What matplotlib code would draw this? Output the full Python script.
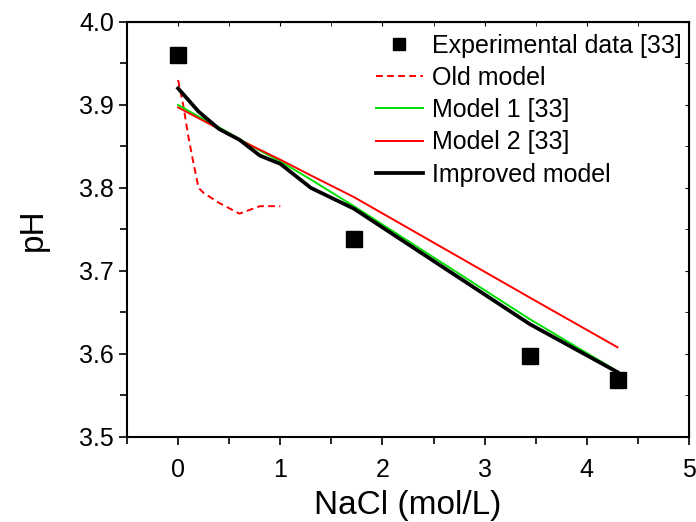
import matplotlib
matplotlib.use('Agg')
import matplotlib.pyplot as plt
from matplotlib.ticker import MultipleLocator

plt.rcParams['font.family'] = ['Liberation Sans', 'DejaVu Sans']

# experimental points
exp_x = [0.0, 1.72, 3.44, 4.3]
exp_ph = [3.96, 3.738, 3.598, 3.569]

# old model (dashed)
old_x = [0.0, 0.05, 0.1, 0.15, 0.2, 0.25, 0.4, 0.6, 0.8, 1.0]
old_ph = [3.93, 3.90, 3.862, 3.83, 3.80, 3.794, 3.782, 3.769, 3.778, 3.778]

# model curves share the same concentrations
model_x = [0.0, 0.2, 0.4, 0.6, 0.8, 1.0, 1.3, 1.72, 3.44, 4.3]
model1_ph = [3.90, 3.886, 3.873, 3.859, 3.845, 3.832, 3.81, 3.778, 3.642, 3.579]
model2_ph = [3.897, 3.884, 3.871, 3.858, 3.846, 3.834, 3.815, 3.789, 3.668, 3.608]
improved_ph = [3.92, 3.892, 3.871, 3.858, 3.839, 3.829, 3.80, 3.775, 3.636, 3.578]

fig = plt.figure(figsize=(6.96, 5.22), dpi=100)
ax = fig.add_axes([0.1825, 0.163, 0.8075, 0.795])

ax.plot(exp_x, exp_ph, 's', color='black', markersize=11, label='Experimental data [33]')
ax.plot(old_x, old_ph, '--', color='red', lw=1.4, dashes=(3.5, 2.2), label='Old model')
ax.plot(model_x, model1_ph, '-', color='#00e000', lw=1.4, label='Model 1 [33]')
ax.plot(model_x, model2_ph, '-', color='red', lw=1.4, label='Model 2 [33]')
ax.plot(model_x, improved_ph, '-', color='black', lw=2.7, label='Improved model')

ax.set_xlim(-0.5, 5)
ax.set_ylim(3.5, 4.0)
ax.xaxis.set_major_locator(MultipleLocator(1))
ax.xaxis.set_minor_locator(MultipleLocator(0.5))
ax.set_yticks([3.5, 3.6, 3.7, 3.8, 3.9, 4.0])
ax.set_yticklabels(['3.5', '3.6', '3.7', '3.8', '3.9', '4.0'])
ax.yaxis.set_minor_locator(MultipleLocator(0.05))

ax.tick_params(which='both', direction='out', labelsize=18, width=1.2, top=False, right=False)
ax.tick_params(which='major', length=6)
ax.tick_params(which='minor', length=5)
ax.tick_params(axis='x', which='major', pad=9)
# inward ticks on top and right
ax2 = ax.secondary_xaxis('top')
ax2.xaxis.set_major_locator(MultipleLocator(1))
ax2.xaxis.set_minor_locator(MultipleLocator(0.5))
ax2.tick_params(which='both', direction='in', length=3, labeltop=False)
ax3 = ax.secondary_yaxis('right')
ax3.yaxis.set_major_locator(MultipleLocator(0.1))
ax3.yaxis.set_minor_locator(MultipleLocator(0.05))
ax3.tick_params(which='both', direction='in', length=3, labelright=False)

for s in ax.spines.values():
    s.set_linewidth(1.5)

ax.set_xlabel('NaCl (mol/L)', fontsize=24, labelpad=6)
ax.set_ylabel('pH', fontsize=24, labelpad=22)

ax.legend(loc='upper right', bbox_to_anchor=(1.0, 0.99), frameon=False, fontsize=18,
          handlelength=1.9, handletextpad=0.35, labelspacing=0.33, borderaxespad=0.05,
          borderpad=0.25, markerscale=0.85)

fig.savefig('out.png', dpi=100)
